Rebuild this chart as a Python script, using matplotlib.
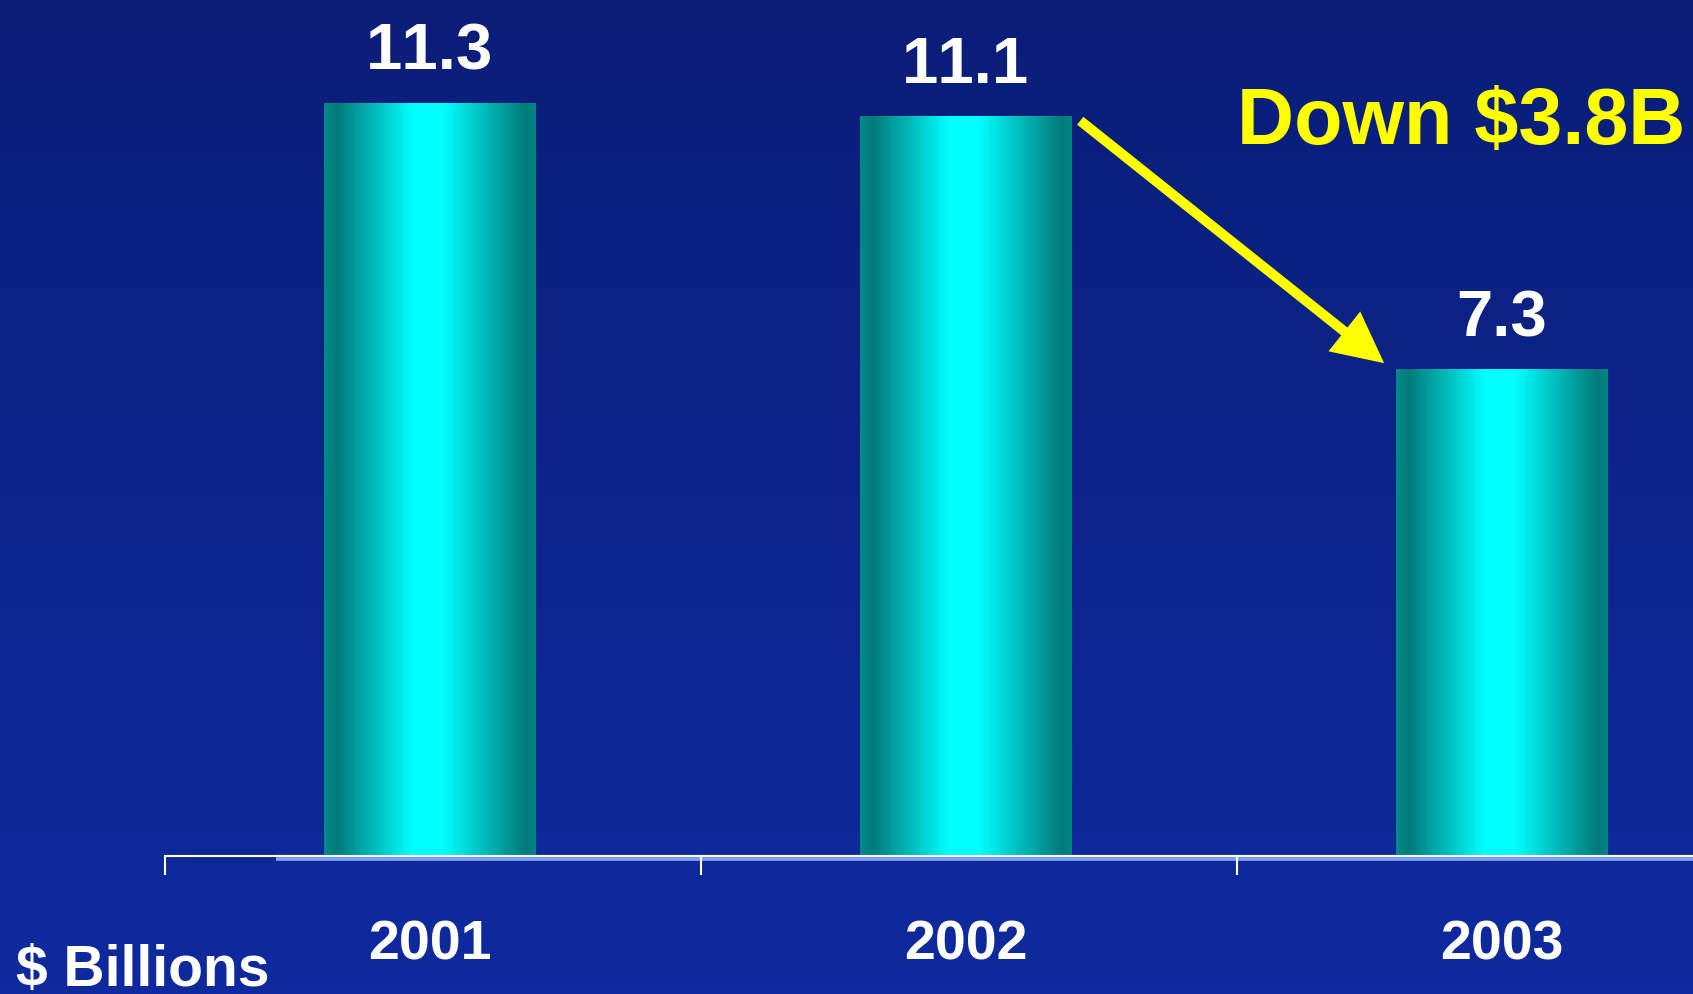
import numpy as np
import matplotlib
matplotlib.use("Agg")
import matplotlib.pyplot as plt
from matplotlib.colors import LinearSegmentedColormap
from matplotlib.patches import FancyArrowPatch

# Data
years = ["2001", "2002", "2003"]
values = [11.3, 11.1, 7.3]
drop_label = "Down $3.8B"
unit_label = "$ Billions"

plt.rcParams["font.family"] = ["Liberation Sans", "DejaVu Sans"]
plt.rcParams["font.weight"] = "bold"
plt.rcParams["text.kerning_factor"] = 8  # no "11" kerning, like the slide

W, H = 1693, 995
fig = plt.figure(figsize=(W / 100, H / 100), dpi=100)

# Background gradient (navy at top, brighter blue at bottom)
bg = fig.add_axes([0, 0, 1, 1], zorder=-10)
bg_cmap = LinearSegmentedColormap.from_list("bg", ["#0e2a9e", "#0a1e78"])
bg.imshow(np.linspace(0, 1, 256).reshape(-1, 1), aspect="auto", cmap=bg_cmap,
          extent=(0, 1, 0, 1), origin="lower")
bg.axis("off")

# Main axes
left_px, base_px, slot_px, unit_px = 165, 857, 536, 66.6
ax = fig.add_axes([left_px / W, (H - base_px) / H, 1 - left_px / W, base_px / H])
ax.patch.set_visible(False)

x = np.arange(len(years))
bw = 0.395
off = 0.494
bars = ax.bar(x, values, width=bw, color="none", edgecolor="none")

bar_cmap = LinearSegmentedColormap.from_list(
    "bar",
    [(0.0, "#008a86"), (0.06, "#007b7a"), (0.42, "#00ffff"), (0.56, "#00ffff"),
     (0.95, "#007b7a"), (1.0, "#008582")])
grad = np.linspace(0, 1, 256).reshape(1, -1)
for r in bars:
    ax.imshow(grad, cmap=bar_cmap, aspect="auto", zorder=2,
              extent=(r.get_x(), r.get_x() + r.get_width(), 0, r.get_height()))

# Value labels
for xi, v in zip(x, values):
    ax.annotate(f"{v}", (xi, v), xytext=(0, 25), textcoords="offset points",
                ha="center", va="baseline", fontsize=47, color="white",
                fontweight="bold")

ax.set_xlim(-off, -off + (W - left_px) / slot_px)
ax.set_ylim(0, base_px / unit_px)

# Axis styling
for s in ["top", "right", "left"]:
    ax.spines[s].set_visible(False)
ax.spines["bottom"].set_color("white")
ax.spines["bottom"].set_linewidth(1.5)
ax.yaxis.set_visible(False)
ax.set_xticks(x - off)
ax.set_xticklabels([])
ax.tick_params(axis="x", which="major", length=14, width=1.5, color="white",
               direction="out")
ax.set_xticks(x, minor=True)
ax.set_xticklabels(years, minor=True)
ax.tick_params(axis="x", which="minor", length=0, pad=45, labelsize=40,
               labelcolor="white")
for lab in ax.get_xticklabels(minor=True):
    lab.set_fontweight("bold")

# light-blue double rule under the baseline
ax.plot([-0.287, ax.get_xlim()[1]], [-0.0032, -0.0032], color="#7fa6ff",
        lw=2.6, transform=ax.get_xaxis_transform(), clip_on=False, zorder=1,
        solid_capstyle="butt")
ax.plot([-0.287, ax.get_xlim()[1]], [0, 0], color="white", lw=1.5,
        transform=ax.get_xaxis_transform(), clip_on=False, zorder=1.5,
        solid_capstyle="butt")

# Arrow from 2002 to 2003
start = (x[1] + bw / 2 + 0.016, values[1] - 0.06)
end = (x[2] - bw / 2 - 0.022, values[2] + 0.1)
arrow = FancyArrowPatch(start, end, arrowstyle="-|>,head_length=25,head_width=12.5",
                        mutation_scale=1, color="#ffff00", lw=7.2,
                        shrinkA=0, shrinkB=0, zorder=4,
                        joinstyle="miter", capstyle="butt")
ax.add_patch(arrow)

fig.text(1685 / W, (H - 144) / H, drop_label, ha="right", va="baseline",
         fontsize=57, color="#ffff00", fontweight="bold")
fig.text(16 / W, (H - 986) / H, unit_label, ha="left", va="baseline",
         fontsize=41, color="white", fontweight="bold")

fig.savefig("out.png", dpi=100)
